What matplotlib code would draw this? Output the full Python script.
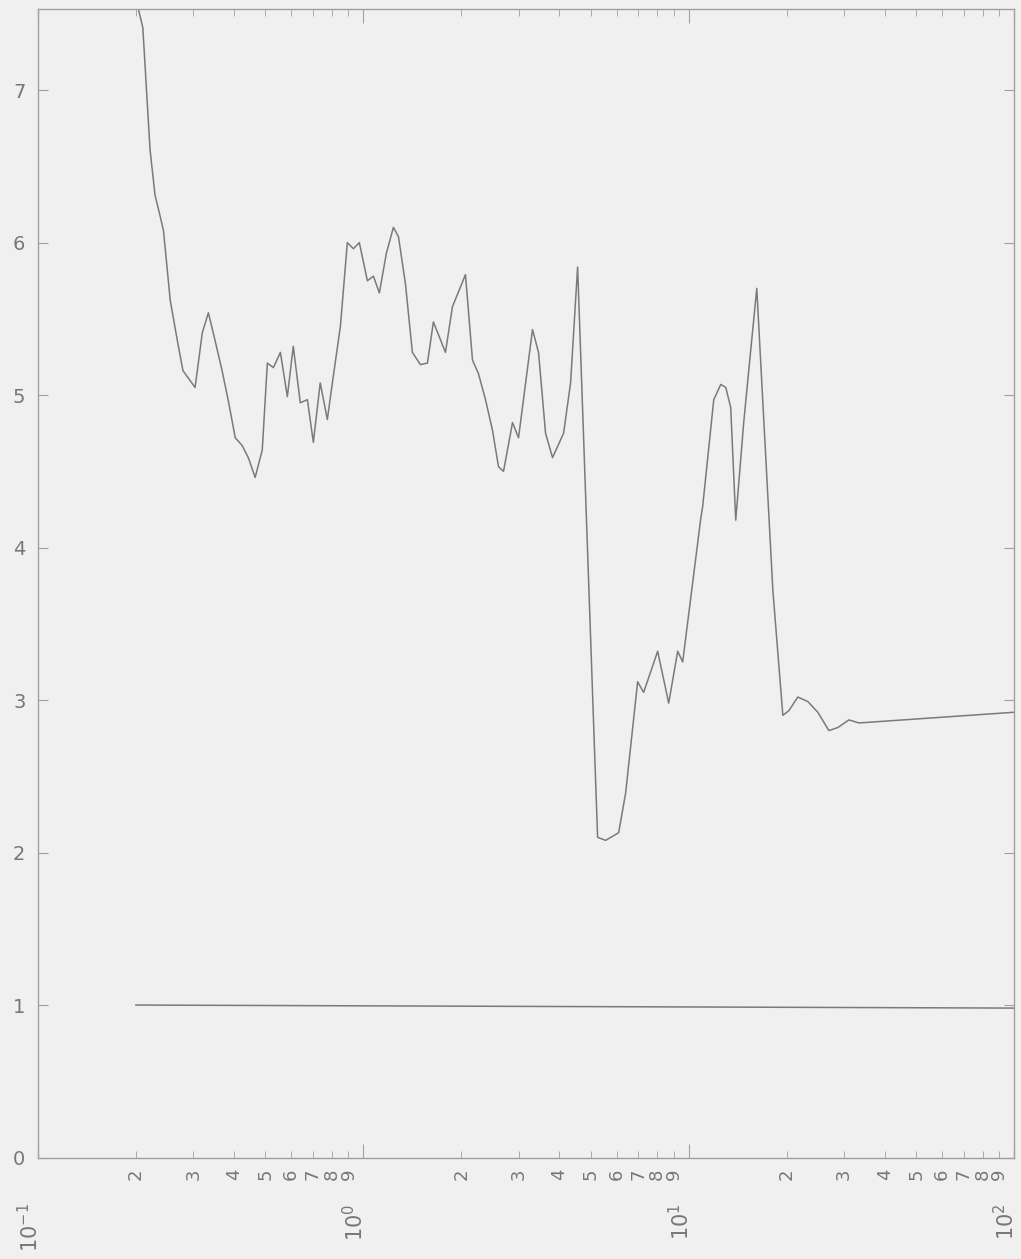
import numpy as np
import matplotlib.pyplot as plt
from matplotlib.ticker import LogLocator, FuncFormatter
from matplotlib.transforms import ScaledTranslation

# curve (x on log axis, y linear)
x_vals = [0.200, 0.210, 0.221, 0.229, 0.237, 0.243, 0.255, 0.268, 0.279, 0.304,
          0.320, 0.334, 0.350, 0.368, 0.384, 0.404, 0.424, 0.443, 0.465, 0.489,
          0.507, 0.529, 0.556, 0.584, 0.609, 0.640, 0.673, 0.702, 0.737, 0.775,
          0.808, 0.850, 0.893, 0.932, 0.972, 1.029, 1.074, 1.120, 1.177, 1.237,
          1.282, 1.347, 1.415, 1.498, 1.574, 1.642, 1.788, 1.879, 2.060, 2.165,
          2.259, 2.374, 2.494, 2.603, 2.697, 2.874, 2.999, 3.311, 3.455, 3.631,
          3.815, 4.125, 4.335, 4.556, 5.248, 5.555, 6.091, 6.400, 6.967, 7.269,
          8.028, 8.680, 9.251, 9.583, 10.89, 11.04, 11.94, 12.55, 13.00, 13.46,
          13.95, 14.76, 15.52, 16.19, 18.14, 19.47, 20.31, 21.65, 23.24, 24.94,
          26.97, 28.74, 31.07, 33.35, 100.0]
y_vals = [7.60, 7.41, 6.61, 6.31, 6.18, 6.08, 5.62, 5.36, 5.16, 5.05,
          5.41, 5.54, 5.36, 5.16, 4.97, 4.72, 4.67, 4.59, 4.46, 4.64,
          5.21, 5.18, 5.28, 4.99, 5.32, 4.95, 4.97, 4.69, 5.08, 4.84,
          5.12, 5.45, 6.00, 5.96, 6.00, 5.75, 5.78, 5.67, 5.93, 6.10,
          6.04, 5.73, 5.28, 5.20, 5.21, 5.48, 5.28, 5.58, 5.79, 5.23,
          5.14, 4.97, 4.77, 4.53, 4.50, 4.82, 4.72, 5.43, 5.28, 4.75,
          4.59, 4.75, 5.08, 5.84, 2.10, 2.08, 2.13, 2.39, 3.12, 3.05,
          3.32, 2.98, 3.32, 3.25, 4.19, 4.27, 4.97, 5.07, 5.05, 4.92,
          4.18, 4.82, 5.30, 5.70, 3.72, 2.90, 2.93, 3.02, 2.99, 2.92,
          2.80, 2.82, 2.87, 2.85, 2.92]

ref_x = [0.2, 100.0]
ref_y = [1.0, 0.98]

bg = '#f0f0f0'
fig = plt.figure(figsize=(10.21, 12.59), dpi=100, facecolor=bg)
ax = fig.add_axes([0.0372, 0.0806, 0.956, 0.912])
ax.set_facecolor(bg)

ax.plot(x_vals, y_vals, color='#7a7a7a', lw=1.1)
ax.plot(ref_x, ref_y, color='#7a7a7a', lw=1.1)

ax.set_xscale('log')
ax.set_xlim(0.1, 100)
ax.set_ylim(0, 7.53)

ax.xaxis.set_major_locator(LogLocator(base=10, numticks=10))
ax.xaxis.set_minor_locator(LogLocator(base=10, subs=np.arange(2, 10), numticks=20))
ax.xaxis.set_minor_formatter(FuncFormatter(
    lambda v, p: '%d' % round(v / 10 ** np.floor(np.log10(v) + 1e-9))))
ax.set_yticks(range(8))

for s in ax.spines.values():
    s.set_color('#a0a0a0')
    s.set_linewidth(1.0)

ax.tick_params(which='both', direction='in', top=True, right=True,
               colors='#a0a0a0', labelcolor='#777777')
ax.tick_params(axis='x', which='major', length=10, pad=33, labelsize=15, labelrotation=90)
ax.tick_params(axis='x', which='minor', length=5, pad=8, labelsize=13, labelrotation=90)
ax.tick_params(axis='y', length=7, pad=9, labelsize=14)

# nudge the decade labels a little left so 10^2 stays inside the page
shift = ScaledTranslation(-6 / 72, 0, fig.dpi_scale_trans)
for t in ax.xaxis.get_major_ticks():
    t.label1.set_transform(t.label1.get_transform() + shift)

plt.savefig('out.png', dpi=100, facecolor=bg)
